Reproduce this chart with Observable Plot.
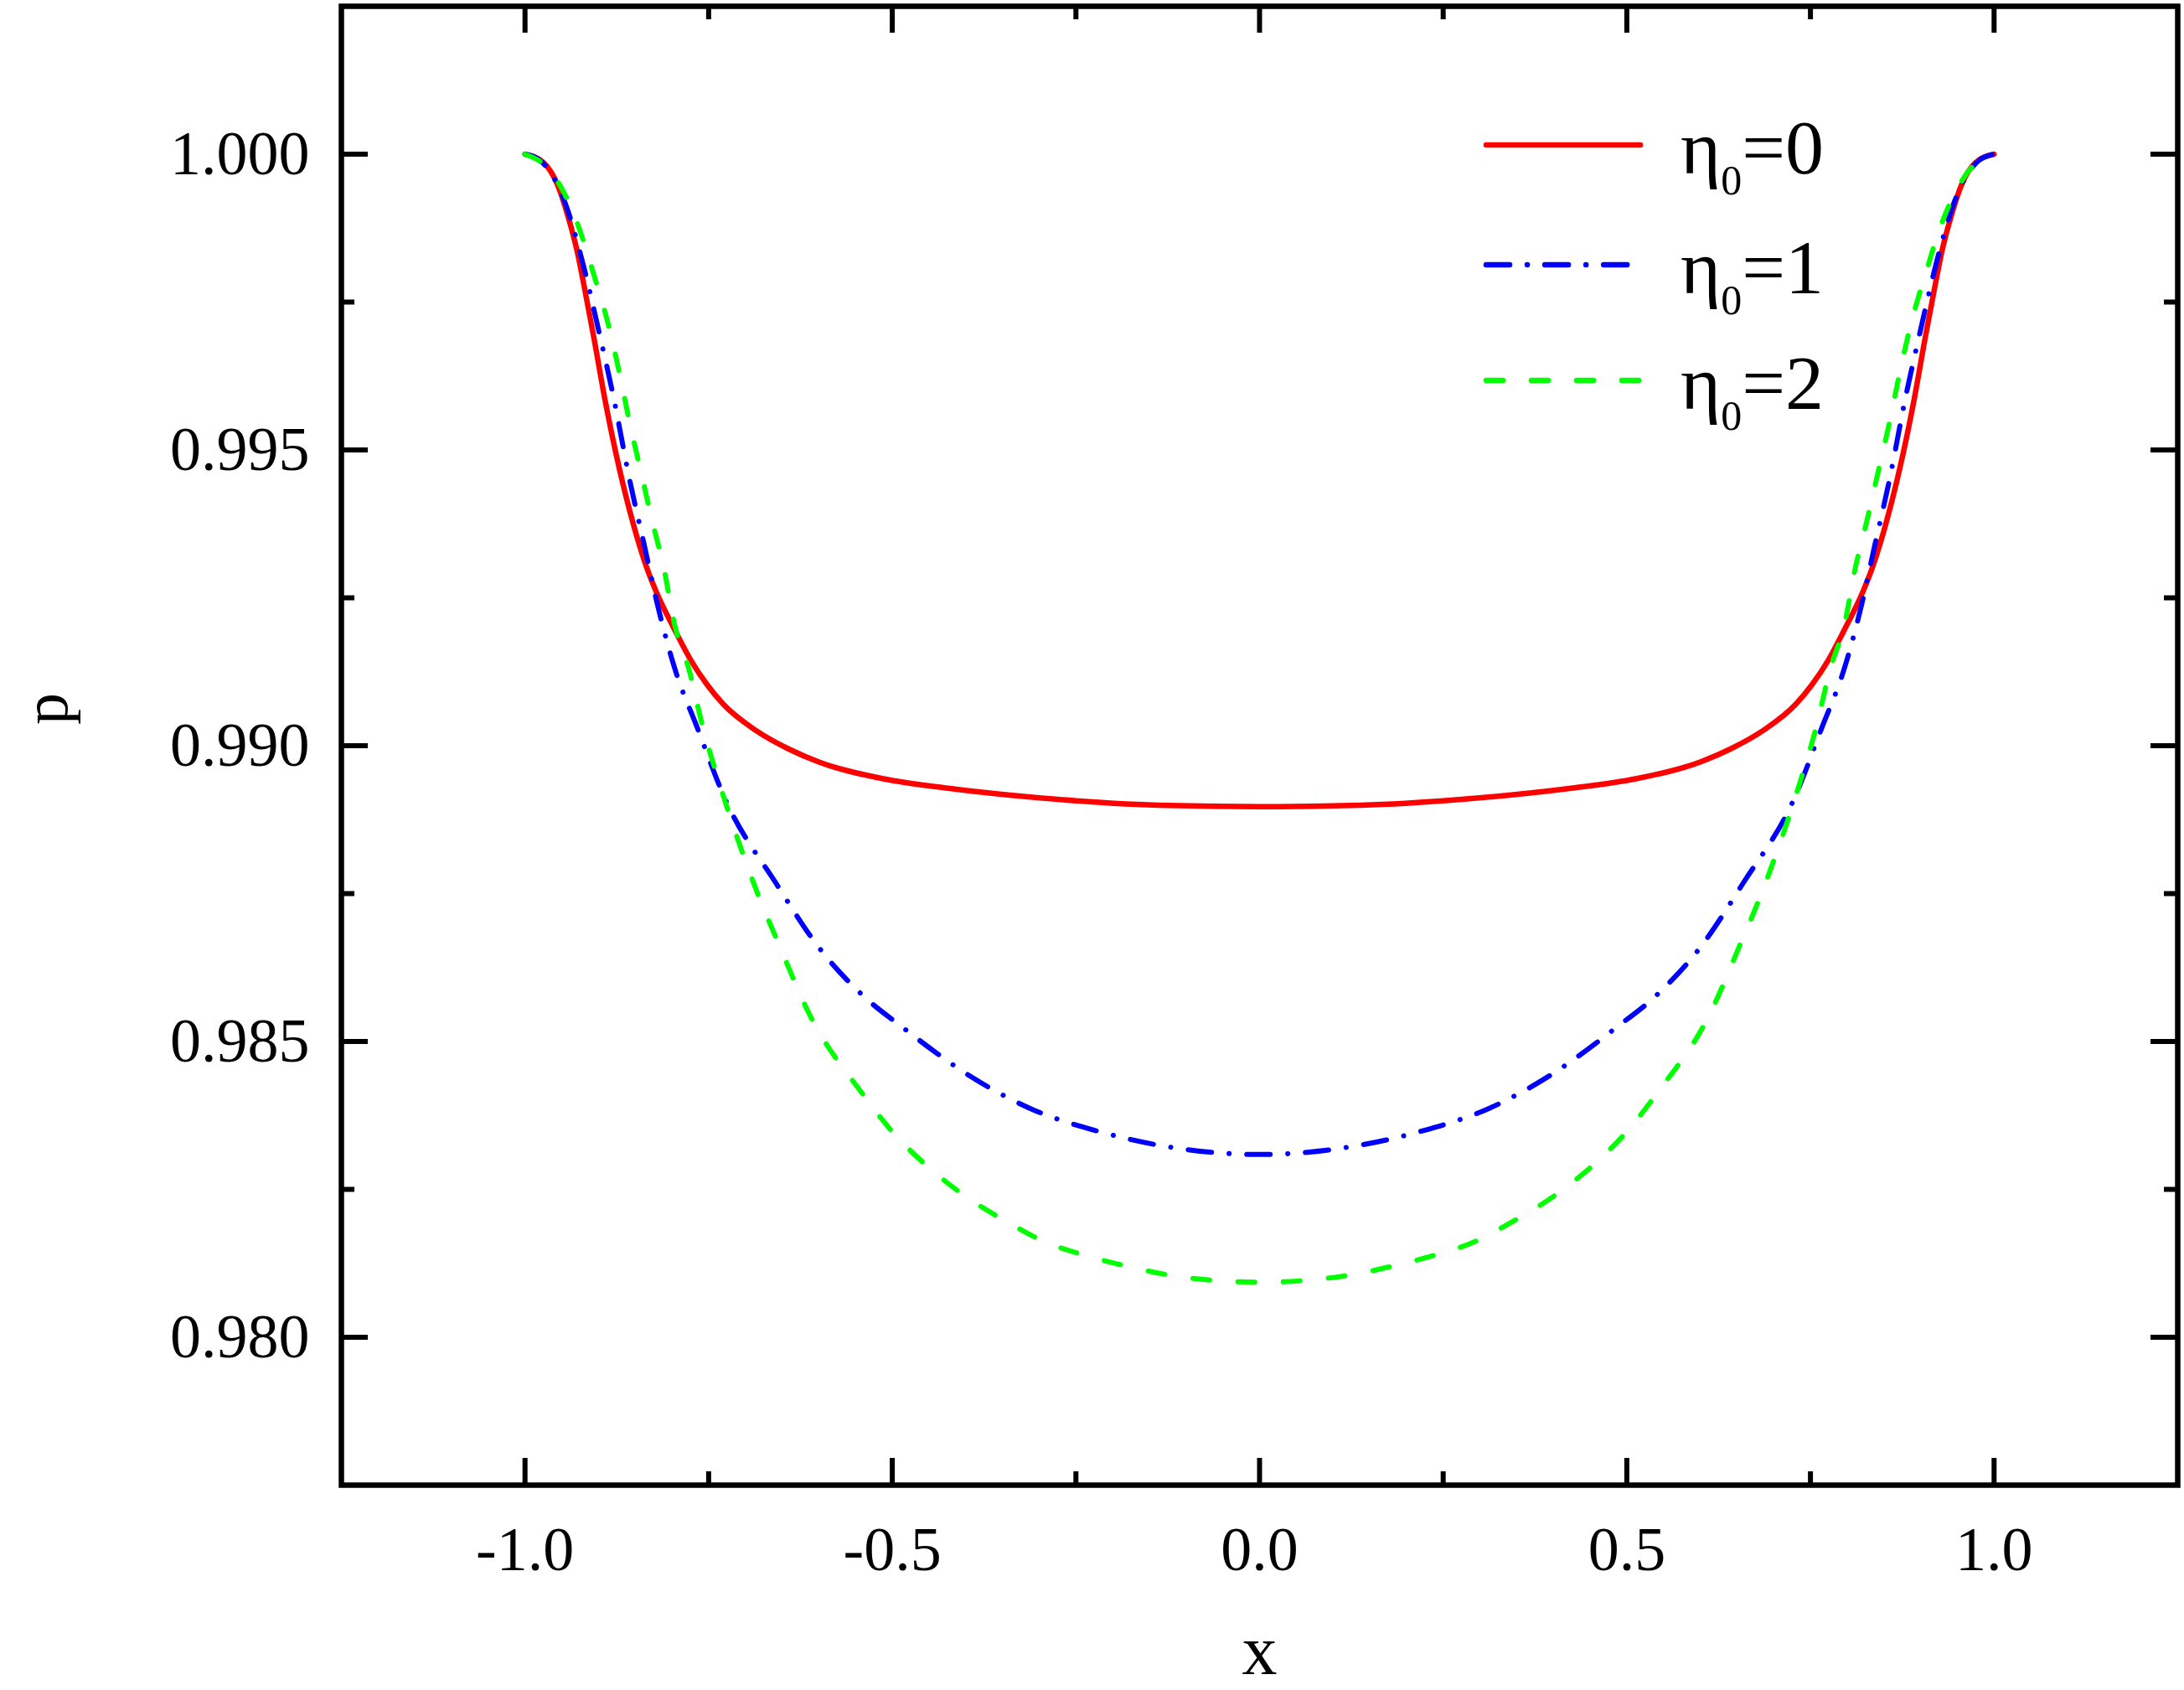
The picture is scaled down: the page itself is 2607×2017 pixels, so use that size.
<!DOCTYPE html>
<html><head><meta charset="utf-8">
<script src="https://cdn.jsdelivr.net/npm/d3@7"></script>
<script src="https://cdn.jsdelivr.net/npm/@observablehq/plot@0.6"></script>
<style>
body{margin:0;background:#fff}
#wrap{position:relative;width:2607px;height:2017px}
#legend{position:absolute;left:0;top:0;pointer-events:none}
</style>
</head><body><div id="wrap"></div>
<script>
// ---- data ----
const xEta0 = [-1, -0.975, -0.956, -0.941, -0.929, -0.918, -0.906, -0.891, -0.876, -0.857, -0.834, -0.822, -0.795, -0.774, -0.752, -0.730, -0.686, -0.642, -0.599, -0.512, -0.424, -0.337, -0.250, -0.125, 0, 0.125, 0.250, 0.337, 0.424, 0.512, 0.599, 0.642, 0.686, 0.730, 0.752, 0.774, 0.795, 0.822, 0.834, 0.857, 0.876, 0.891, 0.906, 0.918, 0.929, 0.941, 0.956, 0.975, 1];
const pEta0 = [1.00000, 0.99986, 0.99949, 0.99893, 0.99836, 0.99767, 0.99688, 0.99584, 0.99493, 0.99395, 0.99300, 0.99262, 0.99193, 0.99144, 0.99103, 0.99070, 0.99026, 0.98995, 0.98972, 0.98944, 0.98928, 0.98916, 0.98907, 0.98899, 0.98897, 0.98899, 0.98907, 0.98916, 0.98928, 0.98944, 0.98972, 0.98995, 0.99026, 0.99070, 0.99103, 0.99144, 0.99193, 0.99262, 0.99300, 0.99395, 0.99493, 0.99584, 0.99688, 0.99767, 0.99836, 0.99893, 0.99949, 0.99986, 1.00000];

const xEta1 = [-1, -0.979, -0.944, -0.922, -0.899, -0.880, -0.857, -0.838, -0.819, -0.796, -0.766, -0.728, -0.658, -0.600, -0.542, -0.484, -0.396, -0.309, -0.222, -0.134, 0, 0.134, 0.222, 0.309, 0.396, 0.484, 0.542, 0.600, 0.658, 0.728, 0.766, 0.796, 0.819, 0.838, 0.857, 0.880, 0.899, 0.922, 0.944, 0.979, 1];
const pEta1 = [1.00000, 0.99989, 0.99913, 0.99819, 0.99698, 0.99592, 0.99446, 0.99341, 0.99235, 0.99130, 0.99032, 0.98911, 0.98767, 0.98659, 0.98580, 0.98522, 0.98443, 0.98385, 0.98349, 0.98324, 0.98309, 0.98324, 0.98349, 0.98385, 0.98443, 0.98522, 0.98580, 0.98659, 0.98767, 0.98911, 0.99032, 0.99130, 0.99235, 0.99341, 0.99446, 0.99592, 0.99698, 0.99819, 0.99913, 0.99989, 1.00000];

const xEta2 = [-1, -0.962, -0.929, -0.906, -0.887, -0.872, -0.857, -0.842, -0.827, -0.811, -0.796, -0.777, -0.758, -0.735, -0.709, -0.682, -0.654, -0.612, -0.542, -0.501, -0.455, -0.408, -0.338, -0.292, -0.239, -0.187, -0.117, 0, 0.117, 0.187, 0.239, 0.292, 0.338, 0.408, 0.455, 0.501, 0.542, 0.612, 0.654, 0.682, 0.709, 0.735, 0.758, 0.777, 0.796, 0.811, 0.827, 0.842, 0.857, 0.872, 0.887, 0.906, 0.929, 0.962, 1];
const pEta2 = [1.00000, 0.99966, 0.99884, 0.99795, 0.99714, 0.99633, 0.99543, 0.99462, 0.99381, 0.99300, 0.99203, 0.99130, 0.99032, 0.98935, 0.98837, 0.98746, 0.98663, 0.98544, 0.98414, 0.98349, 0.98292, 0.98245, 0.98191, 0.98161, 0.98139, 0.98122, 0.98104, 0.98093, 0.98104, 0.98122, 0.98139, 0.98161, 0.98191, 0.98245, 0.98292, 0.98349, 0.98414, 0.98544, 0.98663, 0.98746, 0.98837, 0.98935, 0.99032, 0.99130, 0.99203, 0.99300, 0.99381, 0.99462, 0.99543, 0.99633, 0.99714, 0.99795, 0.99884, 0.99966, 1.00000];

const seriesNames = ["0", "1", "2"];
const seriesColors = ["#ff0000", "#0000ff", "#00ff00"];

const xTicks = [-1.0, -0.5, 0.0, 0.5, 1.0];
const xTickLabels = ["-1.0", "-0.5", "0.0", "0.5", "1.0"];
const xMinorTicks = [-0.75, -0.25, 0.25, 0.75];
const yTicks = [0.980, 0.985, 0.990, 0.995, 1.000];
const yTickLabels = ["0.980", "0.985", "0.990", "0.995", "1.000"];
const yMinorTicks = [0.9825, 0.9875, 0.9925, 0.9975];
const xLabel = ["x"];
const yLabel = ["p"];

// ---- layout ----
const W = 2607, H = 2017;
const mL = 407, mR = 8, mT = 7, mB = 245;
const innerW = W - mL - mR, innerH = H - mT - mB;
const font = "'Liberation Serif', 'DejaVu Serif', serif";
const dashes = [null, "28,21,0.1,21", "20,34"];
const widths = [6.5, 6, 6];

const seriesData = [[xEta0, pEta0], [xEta1, pEta1], [xEta2, pEta2]].map(([xs, ps], k) =>
  xs.map((x, i) => ({x, p: ps[i], eta: seriesNames[k]})));

const lineMarks = seriesData.map((d, k) => Plot.line(d, {
  x: "x", y: "p", stroke: seriesColors[k], strokeWidth: widths[k],
  strokeDasharray: dashes[k], strokeLinecap: "round", strokeLinejoin: "round",
  curve: "monotone-x"
}));

const chart = Plot.plot({
  width: W, height: H,
  marginLeft: mL, marginRight: mR, marginTop: mT, marginBottom: mB,
  style: {fontFamily: font, background: "#fff", color: "#000", overflow: "visible"},
  x: {domain: [-1.25, 1.25]},
  y: {domain: [0.9775, 1.0025]},
  marks: [
    ...lineMarks,
    Plot.axisX(xTicks, {anchor: "bottom", tickSize: 0, tickPadding: 49, fontSize: 74,
      tickFormat: d => xTickLabels[xTicks.indexOf(d)], label: null}),
    Plot.axisY(yTicks, {anchor: "left", tickSize: 0, tickPadding: 38, fontSize: 74,
      tickFormat: d => yTickLabels[yTicks.indexOf(d)], label: null}),
    // inward ticks on all four sides
    Plot.tickX(xTicks, {x: d => d, insetTop: innerH - 32, strokeWidth: 6}),
    Plot.tickX(xTicks, {x: d => d, insetBottom: innerH - 32, strokeWidth: 6}),
    Plot.tickX(xMinorTicks, {x: d => d, insetTop: innerH - 16, strokeWidth: 6}),
    Plot.tickX(xMinorTicks, {x: d => d, insetBottom: innerH - 16, strokeWidth: 6}),
    Plot.tickY(yTicks, {y: d => d, insetRight: innerW - 32, strokeWidth: 6}),
    Plot.tickY(yTicks, {y: d => d, insetLeft: innerW - 32, strokeWidth: 6}),
    Plot.tickY(yMinorTicks, {y: d => d, insetRight: innerW - 16, strokeWidth: 6}),
    Plot.tickY(yMinorTicks, {y: d => d, insetLeft: innerW - 16, strokeWidth: 6}),
    Plot.frame({stroke: "#000", strokeWidth: 6.5}),
    Plot.text(xLabel, {text: d => d, frameAnchor: "bottom", dy: 225, fontSize: 84}),
    Plot.text(yLabel, {text: d => d, frameAnchor: "left", dx: -352, dy: -25, rotate: -90, fontSize: 76})
  ]
});

const wrap = document.getElementById("wrap");
wrap.appendChild(chart);

// ---- legend (overlay) ----
const legendX1 = 1774, legendX2 = 1958, legendTextX = 2006;
const legendRowY = [173, 316, 454];
const leg = d3.select(wrap).append("svg").attr("id", "legend")
  .attr("width", W).attr("height", H);
seriesNames.forEach((name, k) => {
  const y = legendRowY[k];
  leg.append("line").attr("x1", legendX1).attr("x2", legendX2).attr("y1", y).attr("y2", y)
    .attr("stroke", seriesColors[k]).attr("stroke-width", 6.5)
    .attr("stroke-linecap", "round")
    .attr("stroke-dasharray", dashes[k]);
  const t = leg.append("text").attr("x", legendTextX).attr("y", y + 34)
    .attr("font-family", font).attr("font-size", 92).attr("fill", "#000");
  t.append("tspan").text("η");
  t.append("tspan").attr("font-size", 50).attr("dy", 25).text("0");
  t.append("tspan").attr("dy", -25).text("=" + name);
});
</script>
</body></html>
